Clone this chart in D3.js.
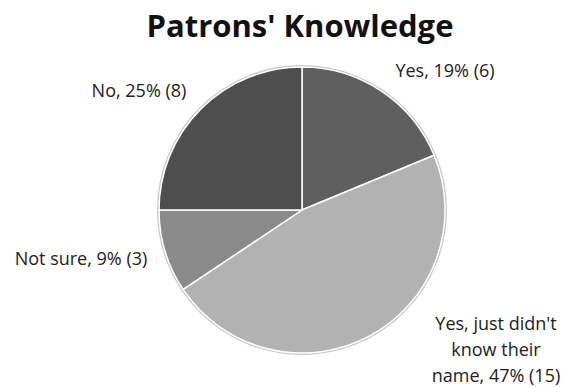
<!DOCTYPE html>
<html>
<head>
<meta charset="utf-8">
<script src="https://cdn.jsdelivr.net/npm/d3@7"></script>
<style>
  html, body { margin: 0; padding: 0; background: #fff; }
  svg { display: block; }
  text { font-family: "Open Sans", "Liberation Sans", sans-serif; }
</style>
</head>
<body>
<svg id="chart" width="565" height="387"></svg>
<script>
// Survey answers, in clockwise order from 12 o'clock
const categories = ["Yes", "Yes, just didn't know their name", "Not sure", "No"];
const counts = [6, 15, 3, 8];
const percents = [19, 47, 9, 25];
const labelLines = [
  ["Yes, 19% (6)"],
  ["Yes, just didn't", "know their", "name, 47% (15)"],
  ["Not sure, 9% (3)"],
  ["No, 25% (8)"]
];
const sliceColors = ["#5f5f5f", "#b2b2b2", "#8a8a8a", "#4e4e4e"];

// where each outside label sits (centre x, first baseline y)
const labelPlacement = [
  { x: 445, y: 77 },
  { x: 496, y: 330 },
  { x: 81, y: 265 },
  { x: 139, y: 97 }
];

const width = 565, height = 387;
const cx = 302, cy = 210, radius = 143;

const svg = d3.select("#chart");

svg.append("text")
  .attr("x", 300)
  .attr("y", 37)
  .attr("text-anchor", "middle")
  .attr("font-size", 31)
  .attr("font-weight", "bold")
  .attr("fill", "#111")
  .text("Patrons' Knowledge");

const pie = d3.pie().sort(null).value(d => d.count);
const arc = d3.arc().innerRadius(0).outerRadius(radius);

const data = categories.map((c, i) => ({
  name: c, count: counts[i], pct: percents[i], lines: labelLines[i], color: sliceColors[i]
}));
const arcs = pie(data);

const g = svg.append("g").attr("transform", `translate(${cx},${cy})`);

// soft grey rim around the disc
g.append("circle")
  .attr("r", radius + 1)
  .attr("fill", "none")
  .attr("stroke", "#c8c8c8")
  .attr("stroke-width", 2);

g.selectAll("path.slice")
  .data(arcs)
  .join("path")
  .attr("class", "slice")
  .attr("d", arc)
  .attr("fill", d => d.data.color)
  .attr("stroke", "#fff")
  .attr("stroke-width", 1.5)
  .attr("stroke-linejoin", "round");

const labels = svg.append("g");
arcs.forEach((a, i) => {
  const p = labelPlacement[i];
  const t = labels.append("text")
    .attr("x", p.x)
    .attr("y", p.y)
    .attr("text-anchor", "middle")
    .attr("font-size", 18)
    .attr("fill", "#222");
  a.data.lines.forEach((line, j) => {
    t.append("tspan")
      .attr("x", p.x)
      .attr("dy", j === 0 ? 0 : 26)
      .text(line);
  });
});
</script>
</body>
</html>
